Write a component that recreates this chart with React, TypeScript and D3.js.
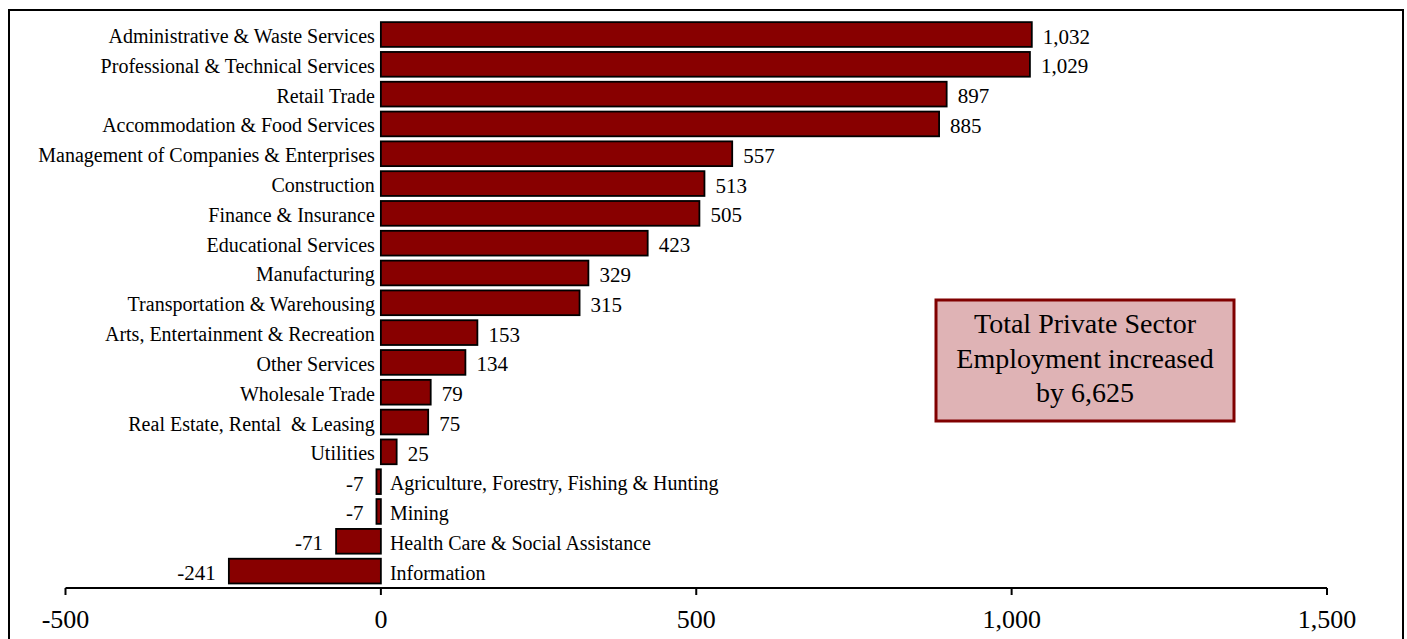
import React from "react";
import * as d3 from "d3";

const categories: string[] = [
  "Administrative & Waste Services",
  "Professional & Technical Services",
  "Retail Trade",
  "Accommodation & Food Services",
  "Management of Companies & Enterprises",
  "Construction",
  "Finance & Insurance",
  "Educational Services",
  "Manufacturing",
  "Transportation & Warehousing",
  "Arts, Entertainment & Recreation",
  "Other Services",
  "Wholesale Trade",
  "Real Estate, Rental  & Leasing",
  "Utilities",
  "Agriculture, Forestry, Fishing & Hunting",
  "Mining",
  "Health Care & Social Assistance",
  "Information",
];

const values: number[] = [
  1032, 1029, 897, 885, 557, 513, 505, 423, 329, 315, 153, 134, 79, 75, 25, -7, -7, -71, -241,
];

const xTicks: number[] = [-500, 0, 500, 1000, 1500];

const noteLines: string[] = ["Total Private Sector", "Employment increased", "by 6,625"];

const FONT = "'Liberation Serif', 'Times New Roman', Times, serif";

export default function App() {
  const W = 1407;
  const H = 639;
  const x = d3.scaleLinear().domain([-500, 1500]).range([65.5, 1327]);
  const y = d3
    .scaleBand<string>()
    .domain(categories)
    .range([19.6, 586])
    .paddingInner(0.17)
    .paddingOuter(0.085);
  const loc = d3.formatLocale({
    decimal: ".",
    thousands: ",",
    grouping: [3],
    currency: ["$", ""],
    minus: "-",
  });
  const fmt = loc.format(",");
  const x0 = x(0);
  const axisY = 588;

  return (
    <svg
      width={W}
      height={H}
      style={{ position: "absolute", left: 0, top: 0, background: "#fff" }}
      fontFamily={FONT}
    >
      <rect x={9} y={10} width={1394} height={660} fill="#fff" stroke="#000" strokeWidth={2} />
      {categories.map((c, i) => {
        const v = values[i];
        const yy = y(c)!;
        const bh = y.bandwidth();
        const cy = yy + bh / 2;
        const xa = Math.min(x(v), x0);
        const w = Math.abs(x(v) - x0);
        return (
          <g key={c}>
            <rect x={xa} y={yy} width={w} height={bh} fill="#880000" stroke="#000" strokeWidth={1.8} />
            {v >= 0 ? (
              <>
                <text x={x0 - 6} y={cy + 8.5} fontSize={20} textAnchor="end" fill="#000" style={{ whiteSpace: "pre" }}>
                  {c}
                </text>
                <text x={x(v) + 11} y={cy + 9} fontSize={21} textAnchor="start" fill="#000">
                  {fmt(v)}
                </text>
              </>
            ) : (
              <>
                <text x={x0 + 9} y={cy + 8.5} fontSize={20} textAnchor="start" fill="#000" style={{ whiteSpace: "pre" }}>
                  {c}
                </text>
                <text x={x(v) - 13} y={cy + 9} fontSize={21} textAnchor="end" fill="#000">
                  {fmt(v)}
                </text>
              </>
            )}
          </g>
        );
      })}
      <line x1={x(-500)} x2={x(1500)} y1={axisY} y2={axisY} stroke="#000" strokeWidth={2} />
      {xTicks.map((t) => (
        <g key={t}>
          <line x1={x(t)} x2={x(t)} y1={axisY} y2={axisY + 7} stroke="#000" strokeWidth={2} />
          <text x={x(t)} y={628} fontSize={26} textAnchor="middle" fill="#000">
            {fmt(t)}
          </text>
        </g>
      ))}
      <rect x={936} y={300} width={298} height={121} fill="#DFB3B5" stroke="#800000" strokeWidth={3} />
      {noteLines.map((s, i) => (
        <text key={s} x={1085} y={333 + i * 34.5} fontSize={28} textAnchor="middle" fill="#000">
          {s}
        </text>
      ))}
    </svg>
  );
}
